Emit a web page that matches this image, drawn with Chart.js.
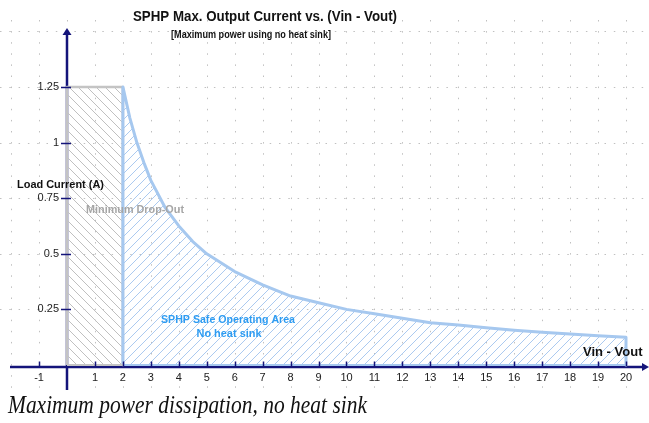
<!DOCTYPE html>
<html>
<head>
<meta charset="utf-8">
<script src="https://cdn.jsdelivr.net/npm/chart.js@4/dist/chart.umd.min.js"></script>
<style>
  html, body { margin: 0; padding: 0; background: #fff; }
</style>
</head>
<body>
<canvas id="soa" width="649" height="423"></canvas>
<script>
// minimum drop-out box (Vin - Vout, load current)
const dropX = [0, 0, 2, 2];
const dropY = [0, 1.25, 1.25, 0];

// safe operating area, no heat sink
const soaX = [2, 2, 2.25, 2.5, 2.75, 3, 3.5, 4, 4.5, 5, 6, 7, 8, 9, 10, 11, 12, 13, 14, 15, 16, 17, 18, 19, 20, 20];
const soaY = [0, 1.25, 1.11, 1.0, 0.91, 0.83, 0.71, 0.625, 0.555, 0.5, 0.42, 0.36, 0.31, 0.28, 0.25, 0.23, 0.21, 0.19, 0.18, 0.167, 0.156, 0.147, 0.139, 0.132, 0.125, 0];

const xGrid = [-2, -1, 0, 1, 2, 3, 4, 5, 6, 7, 8, 9, 10, 11, 12, 13, 14, 15, 16, 17, 18, 19, 20];
const xTickLabels = ["-1", "1", "2", "3", "4", "5", "6", "7", "8", "9", "10", "11", "12", "13", "14", "15", "16", "17", "18", "19", "20"];
const yGrid = [0.25, 0.5, 0.75, 1, 1.25, 1.5];
const yTickLabels = ["0.25", "0.5", "0.75", "1", "1.25"];

const navy = "#14147a";

function hatch(color, up) {
  const n = 9;
  const c = document.createElement("canvas");
  c.width = n; c.height = n;
  const g = c.getContext("2d");
  g.strokeStyle = color;
  g.lineWidth = 1;
  g.beginPath();
  if (up) {
    g.moveTo(0, n); g.lineTo(n, 0);
    g.moveTo(-1, 1); g.lineTo(1, -1);
    g.moveTo(n - 1, n + 1); g.lineTo(n + 1, n - 1);
  } else {
    g.moveTo(0, 0); g.lineTo(n, n);
    g.moveTo(-1, n - 1); g.lineTo(1, n + 1);
    g.moveTo(n - 1, -1); g.lineTo(n + 1, 1);
  }
  g.stroke();
  return g.createPattern(c, "repeat");
}

function txt(ctx, s, x, y, font, color, align, maxW) {
  ctx.font = font;
  ctx.fillStyle = color;
  ctx.textAlign = align;
  ctx.textBaseline = "middle";
  ctx.fillText(s, x, y, maxW);
}

const decor = {
  id: "decor",
  beforeDatasetsDraw(chart) {
    const { ctx, scales: { x, y }, chartArea: a } = chart;
    const x0 = x.getPixelForValue(0);
    const y0 = y.getPixelForValue(0);
    ctx.save();
    // dotted grid
    ctx.strokeStyle = "#c0c0c0";
    ctx.lineWidth = 1;
    ctx.setLineDash([1.5, 9.6]);
    ctx.beginPath();
    xGrid.forEach(v => {
      const px = Math.round(x.getPixelForValue(v)) + 0.5;
      ctx.moveTo(px, a.top); ctx.lineTo(px, a.bottom);
    });
    ctx.stroke();
    ctx.setLineDash([1.5, 7.8]);
    ctx.beginPath();
    yGrid.forEach(v => {
      const py = Math.round(y.getPixelForValue(v)) + 0.5;
      ctx.moveTo(a.left, py); ctx.lineTo(a.right, py);
    });
    ctx.stroke();
    ctx.setLineDash([]);
    // axes
    ctx.strokeStyle = navy;
    ctx.fillStyle = navy;
    ctx.lineWidth = 2.5;
    ctx.beginPath();
    ctx.moveTo(10, y0 + 2); ctx.lineTo(a.right - 4, y0 + 2);
    ctx.moveTo(x0, a.bottom); ctx.lineTo(x0, 33);
    ctx.stroke();
    ctx.beginPath();
    ctx.moveTo(x0, 28); ctx.lineTo(x0 - 4.5, 35); ctx.lineTo(x0 + 4.5, 35); ctx.closePath();
    ctx.fill();
    ctx.beginPath();
    ctx.moveTo(a.right, y0 + 2); ctx.lineTo(a.right - 7, y0 - 2); ctx.lineTo(a.right - 7, y0 + 6); ctx.closePath();
    ctx.fill();
    ctx.restore();
  },
  afterDatasetsDraw(chart) {
    const { ctx, scales: { x, y } } = chart;
    const x0 = x.getPixelForValue(0);
    const y0 = y.getPixelForValue(0);
    ctx.save();
    // light bottom edges of both areas
    ctx.lineWidth = 2;
    ctx.strokeStyle = "#c4c4c4";
    ctx.beginPath();
    ctx.moveTo(x0, y0); ctx.lineTo(x.getPixelForValue(dropX[2]), y0);
    ctx.stroke();
    ctx.strokeStyle = "#a6c8ef";
    ctx.beginPath();
    ctx.moveTo(x.getPixelForValue(soaX[0]), y0); ctx.lineTo(x.getPixelForValue(soaX[soaX.length - 1]), y0);
    ctx.stroke();
    // tick marks
    ctx.strokeStyle = navy;
    ctx.lineWidth = 1.5;
    ctx.beginPath();
    xTickLabels.forEach(l => {
      const px = Math.round(x.getPixelForValue(+l)) + 0.5;
      ctx.moveTo(px, y0 - 3.5); ctx.lineTo(px, y0 + 1);
    });
    yTickLabels.forEach(l => {
      const py = Math.round(y.getPixelForValue(+l)) + 0.5;
      ctx.moveTo(x0 - 6, py); ctx.lineTo(x0 + 4, py);
    });
    ctx.stroke();
    xTickLabels.forEach(l => txt(ctx, l, x.getPixelForValue(+l), y0 + 13, "11px 'Liberation Sans'", "#222", "center"));
    yTickLabels.forEach(l => txt(ctx, l, x0 - 8, y.getPixelForValue(+l), "11px 'Liberation Sans'", "#222", "right"));
    ctx.restore();
  },
  afterDraw(chart) {
    const ctx = chart.ctx;
    ctx.save();
    txt(ctx, "SPHP Max. Output Current vs. (Vin - Vout)", 265, 17, "bold 14px 'Liberation Sans'", "#111", "center", 264);
    txt(ctx, "[Maximum power using no heat sink]", 251, 35, "bold 10px 'Liberation Sans'", "#111", "center", 160);
    txt(ctx, "Load Current (A)", 17, 185, "bold 11px 'Liberation Sans'", "#111", "left", 87);
    txt(ctx, "Minimum Drop-Out", 135, 210, "bold 11px 'Liberation Sans'", "#a6a6a6", "center", 98);
    txt(ctx, "SPHP Safe Operating Area", 228, 320, "bold 11px 'Liberation Sans'", "#2e9cf2", "center", 134);
    txt(ctx, "No heat sink", 229, 334, "bold 11px 'Liberation Sans'", "#2e9cf2", "center", 65);
    txt(ctx, "Vin - Vout", 583, 352, "bold 13px 'Liberation Sans'", "#111", "left", 64);
    ctx.font = "italic 26px 'Liberation Serif'";
    ctx.fillStyle = "#111";
    ctx.textAlign = "left";
    ctx.textBaseline = "alphabetic";
    ctx.fillText("Maximum power dissipation, no heat sink", 8, 413, 359);
    ctx.restore();
  }
};

new Chart(document.getElementById("soa"), {
  type: "line",
  data: {
    datasets: [
      {
        label: "Minimum Drop-Out",
        data: dropX.map((v, i) => ({ x: v, y: dropY[i] })),
        borderColor: "#c4c4c4",
        borderWidth: 2.5,
        borderJoinStyle: "round",
        backgroundColor: hatch("#c0c0c0", false),
        fill: "origin",
        pointRadius: 0,
        tension: 0,
        order: 2,
      },
      {
        label: "SPHP Safe Operating Area",
        data: soaX.map((v, i) => ({ x: v, y: soaY[i] })),
        borderColor: "#a6c8ef",
        borderWidth: 3,
        borderJoinStyle: "round",
        backgroundColor: hatch("#abcaf0", true),
        fill: "origin",
        pointRadius: 0,
        tension: 0,
        order: 1,
      },
    ],
  },
  options: {
    responsive: false,
    animation: false,
    layout: { autoPadding: false, padding: { top: 20, bottom: 33, left: 0, right: 0 } },
    plugins: { legend: { display: false }, tooltip: { enabled: false } },
    scales: {
      x: { type: "linear", display: false, min: -2.397, max: 20.823 },
      y: { type: "linear", display: false, min: -0.1124, max: 1.551 },
    },
  },
  plugins: [decor],
});
</script>
</body>
</html>
